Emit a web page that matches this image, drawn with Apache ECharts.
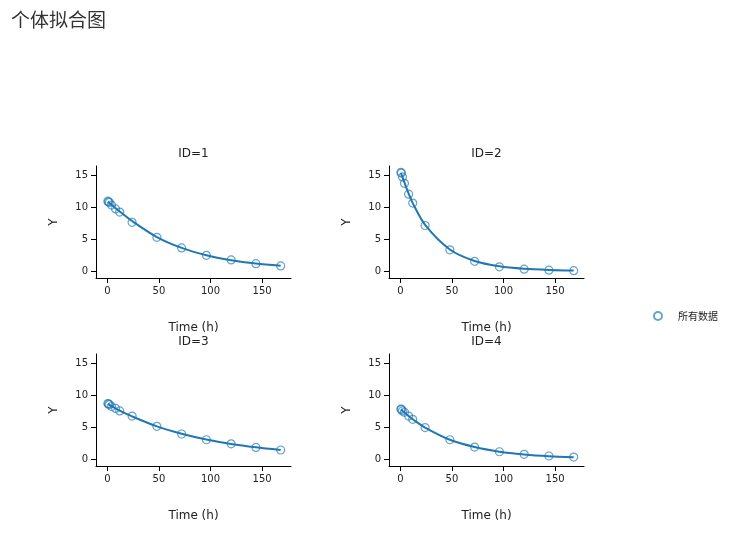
<!DOCTYPE html>
<html>
<head>
<meta charset="utf-8">
<script src="https://cdn.jsdelivr.net/npm/echarts@6/dist/echarts.min.js"></script>
<style>html,body{margin:0;padding:0;background:#fff;}#c{width:756px;height:558px;}</style>
</head>
<body>
<div id="c"></div>
<script>
// Data
var times = [0.5, 1, 2, 4, 8, 12, 24, 48, 72, 96, 120, 144, 168];
var ids = ['ID=1', 'ID=2', 'ID=3', 'ID=4'];
var obs1 = [10.9, 10.8, 10.7, 10.3, 9.7, 9.2, 7.6, 5.26, 3.6, 2.45, 1.72, 1.14, 0.78];
var obs2 = [15.4, 15.3, 14.7, 13.7, 12.0, 10.6, 7.1, 3.3, 1.5, 0.65, 0.28, 0.12, 0.05];
var obs3 = [8.65, 8.6, 8.5, 8.2, 7.9, 7.5, 6.7, 5.1, 3.9, 3.0, 2.36, 1.8, 1.4];
var obs4 = [7.8, 7.75, 7.5, 7.3, 6.7, 6.2, 4.9, 3.0, 1.85, 1.13, 0.72, 0.46, 0.3];
var pred1 = [10.85, 10.75, 10.6, 10.35, 9.8, 9.3, 7.8, 5.3, 3.6, 2.45, 1.68, 1.15, 0.8];
var pred2 = [15.3, 15.1, 14.7, 13.8, 12.1, 10.6, 7.2, 3.35, 1.55, 0.72, 0.33, 0.15, 0.07];
var pred3 = [8.6, 8.55, 8.45, 8.25, 7.9, 7.55, 6.65, 5.1, 3.95, 3.05, 2.35, 1.82, 1.4];
var pred4 = [7.75, 7.68, 7.55, 7.25, 6.7, 6.2, 4.9, 3.0, 1.86, 1.14, 0.71, 0.44, 0.28];
var xTicks = [0, 50, 100, 150];
var yTicks = [0, 5, 10, 15];
var legendName = '所有数据';

var obsAll = [obs1, obs2, obs3, obs4];
var predAll = [pred1, pred2, pred3, pred4];
var blue = '#1f77b4';
var font = 'DejaVu Sans, Verdana, sans-serif';

var panels = [
  {left: 96, top: 166},
  {left: 389, top: 166},
  {left: 96, top: 354},
  {left: 389, top: 354}
];
var W = 195, H = 112;

var grids = [], xAxes = [], yAxes = [], series = [], graphics = [];
panels.forEach(function (p, i) {
  grids.push({left: p.left, top: p.top, width: W, height: H, containLabel: false});
  xAxes.push({
    type: 'value', gridIndex: i, min: -11, max: 178,
    name: 'Time (h)', nameLocation: 'middle', nameGap: 44,
    nameTextStyle: {fontFamily: font, fontSize: 12, color: '#222'},
    axisLine: {show: true, onZero: false, lineStyle: {color: '#000', width: 1}},
    axisTick: {show: true, length: 5, customValues: xTicks, lineStyle: {color: '#000'}},
    axisLabel: {customValues: xTicks, fontFamily: font, fontSize: 10, color: '#222', margin: 8},
    splitLine: {show: false}
  });
  yAxes.push({
    type: 'value', gridIndex: i, min: -1.1, max: 16.4,
    name: 'Y', nameLocation: 'middle', nameGap: 36, nameRotate: 90,
    nameTextStyle: {fontFamily: font, fontSize: 12, color: '#222'},
    axisLine: {show: true, onZero: false, lineStyle: {color: '#000', width: 1}},
    axisTick: {show: true, length: 5, customValues: yTicks, lineStyle: {color: '#000'}},
    axisLabel: {customValues: yTicks, fontFamily: font, fontSize: 10, color: '#222', margin: 8},
    splitLine: {show: false}
  });
  series.push({
    name: 'pred' + (i + 1), type: 'line', xAxisIndex: i, yAxisIndex: i,
    data: times.map(function (t, k) { return [t, predAll[i][k]]; }),
    showSymbol: false, symbol: 'none', smooth: 0.3,
    lineStyle: {color: blue, width: 2}, z: 2, silent: true
  });
  series.push({
    name: legendName, type: 'scatter', xAxisIndex: i, yAxisIndex: i,
    data: times.map(function (t, k) { return [t, obsAll[i][k]]; }),
    symbol: 'circle', symbolSize: 8,
    itemStyle: {color: 'rgba(255,255,255,0)', borderColor: 'rgba(31,119,180,0.85)', borderWidth: 1.2},
    z: 3
  });
  graphics.push({
    type: 'text', x: p.left + W / 2, y: p.top - 12,
    style: {text: ids[i], fontFamily: font, fontSize: 12, fill: '#222', textAlign: 'center', textVerticalAlign: 'middle'}
  });
});

var chart = echarts.init(document.getElementById('c'), null, {renderer: 'canvas'});
chart.setOption({
  animation: false,
  backgroundColor: '#fff',
  title: {
    text: '个体拟合图', left: 11, top: 10, padding: 0,
    textStyle: {fontFamily: 'Noto Sans CJK SC, sans-serif', fontSize: 19, fontWeight: 'normal', color: '#333'}
  },
  legend: {
    data: [legendName], left: 653, top: 311, padding: 0, icon: 'circle',
    itemWidth: 30, itemHeight: 8, itemGap: 5,
    textStyle: {fontFamily: 'Noto Sans CJK SC, sans-serif', fontSize: 10, color: '#222'}
  },
  grid: grids,
  xAxis: xAxes,
  yAxis: yAxes,
  series: series,
  graphic: graphics
});
</script>
</body>
</html>
